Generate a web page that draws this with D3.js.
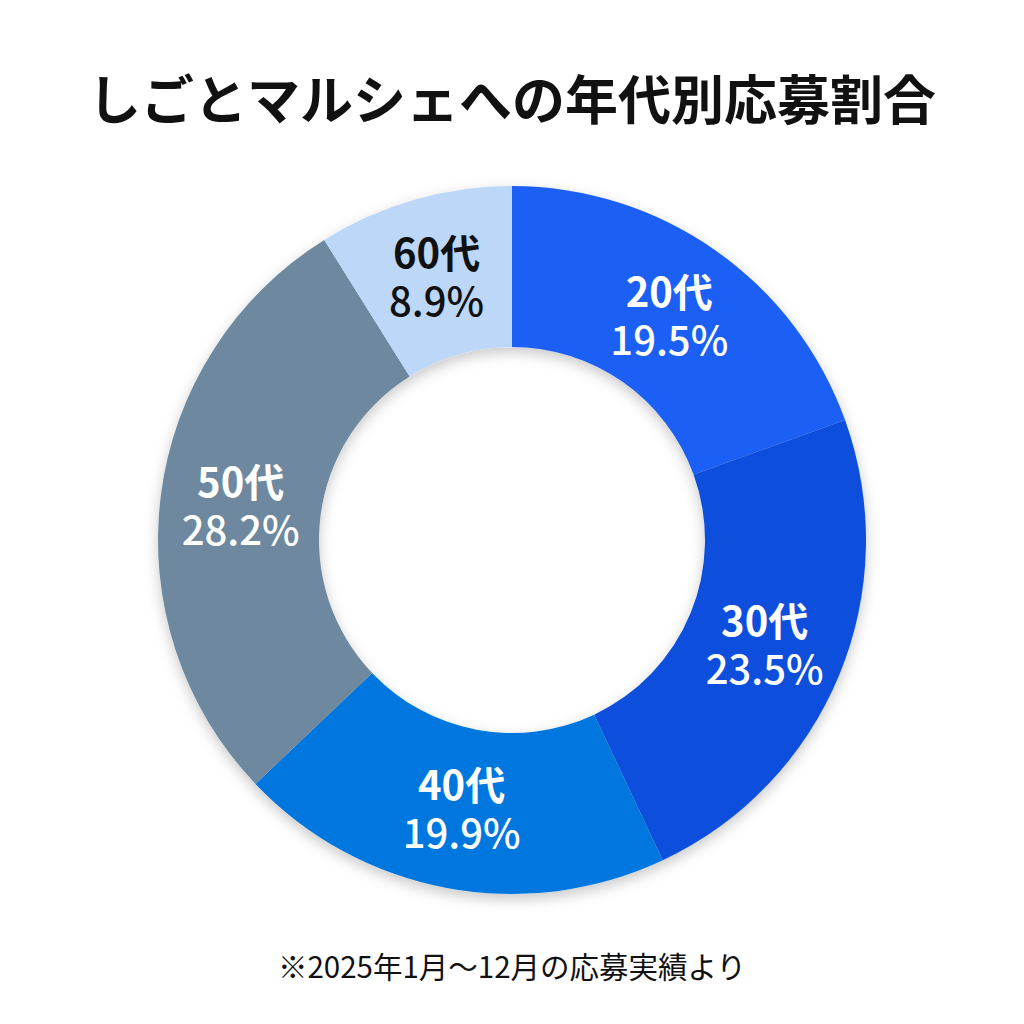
<!DOCTYPE html>
<html>
<head>
<meta charset="utf-8">
<script src="https://cdn.jsdelivr.net/npm/d3@7"></script>
<style>
  html, body { margin: 0; padding: 0; background: #fff; }
  text { font-family: "Noto Sans CJK JP", "Noto Sans", sans-serif; }
</style>
</head>
<body>
<div id="chart"></div>
<script>
let ageGroups = ["20代", "30代", "40代", "50代", "60代"];
let shares = [19.5, 23.5, 19.9, 28.2, 8.9];
let sliceColors = ["#1f5ff4", "#1150dc", "#0677de", "#6d889f", "#bcd7f7"];
let labelColors = ["#ffffff", "#ffffff", "#ffffff", "#ffffff", "#111111"];
let title = "しごとマルシェへの年代別応募割合";
let note = "※2025年1月〜12月の応募実績より";

let width = 1024, height = 1024,
    cx = 512, cy = 540,
    outerR = 354, innerR = 193;

let svg = d3.select("#chart")
    .append("svg")
    .attr("width", width)
    .attr("height", height);

let defs = svg.append("defs");
defs.append("filter")
    .attr("id", "shadow")
    .attr("x", "-20%").attr("y", "-20%")
    .attr("width", "140%").attr("height", "140%")
    .append("feDropShadow")
    .attr("dx", 0)
    .attr("dy", 5)
    .attr("stdDeviation", 7)
    .attr("flood-color", "#000")
    .attr("flood-opacity", 0.22);

svg.append("text")
    .attr("x", width / 2)
    .attr("y", 120)
    .attr("text-anchor", "middle")
    .style("font-size", "53px")
    .style("font-weight", 700)
    .style("fill", "#111")
    .text(title);

let data = ageGroups.map(function(g, i) {
    return {group: g, value: shares[i], i: i};
});

let pie = d3.pie()
    .sort(null)
    .value(function(d) { return d.value; });

let arc = d3.arc()
    .innerRadius(innerR)
    .outerRadius(outerR);

let labelArc = d3.arc()
    .innerRadius((innerR + outerR) / 2)
    .outerRadius((innerR + outerR) / 2);

let donut = svg.append("g")
    .attr("transform", "translate(" + cx + "," + cy + ")");

donut.append("g")
    .attr("filter", "url(#shadow)")
    .selectAll("path")
    .data(pie(data))
    .enter().append("path")
    .attr("d", arc)
    .style("fill", function(d) { return sliceColors[d.data.i]; });

let labels = donut.selectAll(".label")
    .data(pie(data))
    .enter().append("text")
    .attr("class", "label")
    .attr("transform", function(d) { return "translate(" + labelArc.centroid(d) + ")"; })
    .attr("text-anchor", "middle")
    .style("font-size", "40px")
    .style("fill", function(d) { return labelColors[d.data.i]; });

labels.append("tspan")
    .attr("x", 0)
    .attr("y", -9)
    .style("font-weight", 700)
    .text(function(d) { return d.data.group; });

labels.append("tspan")
    .attr("x", 0)
    .attr("y", 39)
    .style("font-weight", 500)
    .text(function(d) { return d.data.value.toFixed(1) + "%"; });

svg.append("text")
    .attr("x", width / 2)
    .attr("y", 978)
    .attr("text-anchor", "middle")
    .style("font-size", "29.5px")
    .style("fill", "#111")
    .text(note);
</script>
</body>
</html>
